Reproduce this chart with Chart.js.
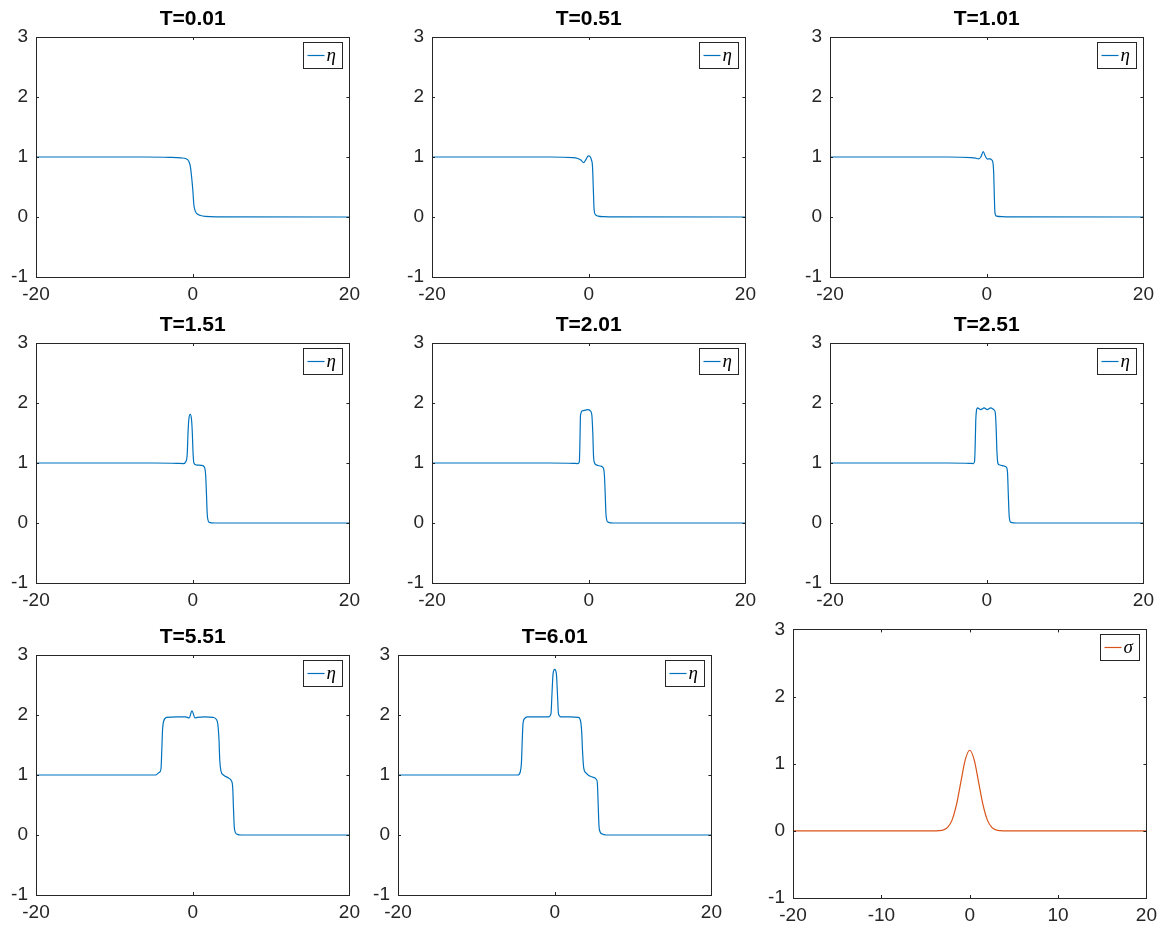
<!DOCTYPE html>
<html>
<head>
<meta charset="utf-8">
<script src="https://cdn.jsdelivr.net/npm/chart.js@4.4.1/dist/chart.umd.min.js"></script>
<style>
  html, body { margin: 0; background: #fff; overflow: hidden; }
  #fig { position: relative; width: 1164px; height: 929px; }
  #fig canvas { position: absolute; }
</style>
</head>
<body>
<div id="fig"></div>
<script>
// tick labels
const xTicksEta = [-20, 0, 20];
const xTicksSigma = [-20, -10, 0, 10, 20];
const yTicks = [-1, 0, 1, 2, 3];

const titles = ['T=0.01', 'T=0.51', 'T=1.01', 'T=1.51', 'T=2.01', 'T=2.51', 'T=5.51', 'T=6.01', ''];

// eta(x)
const x001 = [-20, -6, -3, -1.5, -0.85, -0.5, -0.3, -0.15, 0, 0.15, 0.35, 0.6, 1, 1.6, 3, 20];
const y001 = [1, 1, 0.995, 0.985, 0.97, 0.93, 0.84, 0.68, 0.47, 0.2, 0.09, 0.05, 0.025, 0.01, 0.002, 0];

const x051 = [-20, -5, -2, -1.4, -1, -0.65, -0.35, -0.05, 0.15, 0.35, 0.48, 0.58, 0.69, 0.86, 1.2, 2, 3, 20];
const y051 = [1, 1, 0.99, 0.975, 0.95, 0.905, 0.96, 1.02, 1.01, 0.95, 0.85, 0.5, 0.12, 0.04, 0.015, 0.005, 0.001, 0];

const x101 = [-20, -5, -2, -1.4, -1.05, -0.75, -0.44, -0.2, 0.1, 0.4, 0.65, 0.8, 0.9, 0.97, 1.05, 1.25, 2.1, 3, 20];
const y101 = [1, 1, 0.99, 0.98, 0.97, 1.0, 1.09, 1.02, 0.965, 0.97, 0.95, 0.9, 0.7, 0.35, 0.07, 0.015, 0.005, 0.001, 0];

const x151 = [-20, -5, -2, -1.2, -0.85, -0.7, -0.6, -0.5, -0.32, -0.15, -0.05, 0.05, 0.15, 0.4, 1.1, 1.5, 1.65, 1.75, 1.85, 1.95, 2.1, 2.8, 20];
const y151 = [1, 1, 0.995, 0.99, 1.03, 1.15, 1.5, 1.72, 1.81, 1.72, 1.5, 1.15, 1.0, 0.97, 0.96, 0.93, 0.8, 0.5, 0.15, 0.05, 0.01, 0, 0];

const x201 = [-20, -5, -2, -1.4, -1.2, -1.12, -1.05, -0.8, -0.4, -0.1, 0.2, 0.4, 0.52, 0.62, 0.75, 0.95, 1.5, 1.85, 2.0, 2.1, 2.2, 2.3, 2.45, 3.2, 20];
const y201 = [1, 1, 0.995, 0.99, 1.02, 1.35, 1.79, 1.87, 1.88, 1.89, 1.87, 1.8, 1.5, 1.1, 1.0, 0.97, 0.95, 0.92, 0.8, 0.5, 0.15, 0.05, 0.015, 0, 0];

const x251 = [-20, -5, -2.2, -1.7, -1.55, -1.47, -1.4, -1.3, -1.18, -0.76, -0.34, 0.08, 0.5, 0.9, 1.08, 1.2, 1.3, 1.42, 1.6, 2.2, 2.5, 2.65, 2.75, 2.85, 2.95, 3.1, 3.8, 20];
const y251 = [1, 1, 0.995, 0.99, 1.03, 1.3, 1.7, 1.88, 1.92, 1.89, 1.92, 1.89, 1.92, 1.89, 1.85, 1.6, 1.2, 1.0, 0.97, 0.95, 0.93, 0.85, 0.5, 0.15, 0.04, 0.01, 0, 0];

const x551 = [-20, -8, -4.7, -4.3, -4.05, -3.95, -3.85, -3.7, -3.3, -2, -0.9, -0.45, -0.1, 0.3, 0.6, 1.5, 2.6, 3.0, 3.2, 3.35, 3.45, 3.6, 3.92, 4.56, 4.95, 5.1, 5.2, 5.3, 5.45, 5.7, 6.2, 20];
const y551 = [1, 1, 1.0, 1.04, 1.1, 1.4, 1.75, 1.9, 1.96, 1.97, 1.97, 1.95, 2.07, 1.95, 1.96, 1.97, 1.96, 1.93, 1.85, 1.6, 1.25, 1.07, 1.0, 0.95, 0.9, 0.8, 0.45, 0.14, 0.04, 0.01, 0, 0];

const x601 = [-20, -8, -4.7, -4.4, -4.25, -4.15, -4.05, -3.85, -3.5, -2, -0.8, -0.48, -0.35, -0.21, 0, 0.21, 0.35, 0.48, 0.8, 2, 3.0, 3.3, 3.45, 3.55, 3.7, 3.95, 4.7, 5.35, 5.45, 5.55, 5.65, 5.8, 6.0, 6.6, 20];
const y601 = [1, 1, 1.0, 1.05, 1.2, 1.55, 1.85, 1.94, 1.97, 1.97, 1.97, 2.02, 2.35, 2.69, 2.76, 2.69, 2.35, 2.02, 1.97, 1.97, 1.96, 1.9, 1.7, 1.4, 1.12, 1.04, 0.97, 0.92, 0.85, 0.5, 0.15, 0.05, 0.02, 0, 0];

// sigma(x)
const xSig = [-20, -4, -3.5, -3, -2.5, -2, -1.5, -1, -0.5, 0, 0.5, 1, 1.5, 2, 2.5, 3, 3.5, 4, 20];
const ySig = [0, 0.0004, 0.003, 0.013, 0.053, 0.16, 0.39, 0.73, 1.06, 1.2, 1.06, 0.73, 0.39, 0.16, 0.053, 0.013, 0.003, 0.0004, 0];

const etaX = [x001, x051, x101, x151, x201, x251, x551, x601];
const etaY = [y001, y051, y101, y151, y201, y251, y551, y601];

// axes boxes in page pixels: left, top, width, height
const boxes = [
  [36, 37, 316, 240], [432, 37, 316, 240], [830, 37, 316, 240],
  [36, 343, 316, 240], [432, 343, 316, 240], [830, 343, 316, 240],
  [36, 655, 316, 240], [398, 655, 316, 240], [793, 640, 356, 258]
];

const BLUE = '#0072BD';
const ORANGE = '#D95319';
const AXIS = '#262626';
const Y_W = 40, TOP_H = 30, X_H = 32, PAD_R = 14;

const frame = {
  id: 'frame',
  afterDraw(chart) {
    const { ctx, chartArea: a, scales: { x, y } } = chart;
    const tl = 3;
    ctx.save();
    ctx.strokeStyle = AXIS;
    ctx.lineWidth = 1;
    ctx.beginPath();
    x.ticks.forEach((t) => {
      const px = Math.round(x.getPixelForValue(t.value)) + 0.5;
      ctx.moveTo(px, a.bottom); ctx.lineTo(px, a.bottom - tl);
      ctx.moveTo(px, a.top); ctx.lineTo(px, a.top + tl);
    });
    y.ticks.forEach((t) => {
      const py = Math.round(y.getPixelForValue(t.value)) + 0.5;
      ctx.moveTo(a.left, py); ctx.lineTo(a.left + tl, py);
      ctx.moveTo(a.right, py); ctx.lineTo(a.right - tl, py);
    });
    ctx.stroke();
    ctx.strokeRect(Math.round(a.left) + 0.5, Math.round(a.top) + 0.5,
      Math.round(a.right - a.left), Math.round(a.bottom - a.top));
    ctx.restore();
  }
};

const insetLegend = {
  id: 'insetLegend',
  afterDraw(chart) {
    const { ctx, chartArea: a } = chart;
    const ds = chart.data.datasets[0];
    const w = 39, h = 26;
    const bx = Math.round(a.right - 7 - w) + 0.5;
    const by = Math.round(a.top + 5) + 0.5;
    ctx.save();
    ctx.fillStyle = '#fff';
    ctx.fillRect(bx, by, w, h);
    ctx.strokeStyle = AXIS;
    ctx.lineWidth = 1;
    ctx.strokeRect(bx, by, w, h);
    ctx.strokeStyle = ds.borderColor;
    ctx.lineWidth = 1.2;
    ctx.beginPath();
    ctx.moveTo(bx + 4, by + h / 2);
    ctx.lineTo(bx + 21, by + h / 2);
    ctx.stroke();
    ctx.fillStyle = '#000';
    ctx.font = 'italic 19px "Liberation Serif"';
    ctx.textBaseline = 'middle';
    ctx.fillText(ds.label, bx + 23, by + h / 2);
    ctx.restore();
  }
};

function makePanel(i, xs, ys, label, color, xTicks) {
  const [l, t, w, h] = boxes[i];
  const canvas = document.createElement('canvas');
  canvas.width = w + Y_W + PAD_R;
  canvas.height = h + TOP_H + X_H;
  canvas.style.left = (l - Y_W) + 'px';
  canvas.style.top = (t - TOP_H) + 'px';
  document.getElementById('fig').appendChild(canvas);

  const tickFont = { family: '"Liberation Sans", Arial, sans-serif', size: 19 };

  new Chart(canvas, {
    type: 'line',
    data: {
      datasets: [{
        label,
        data: xs.map((x, k) => ({ x, y: ys[k] })),
        borderColor: color,
        borderWidth: 1.2,
        pointRadius: 0,
        cubicInterpolationMode: 'monotone',
        fill: false
      }]
    },
    options: {
      responsive: false,
      animation: false,
      devicePixelRatio: 1,
      layout: { padding: { top: 0, left: 0, right: PAD_R, bottom: 0 } },
      plugins: {
        legend: { display: false },
        tooltip: { enabled: false },
        title: {
          display: titles[i] !== '',
          text: titles[i],
          fullSize: false,
          color: '#000',
          font: { family: '"Liberation Sans", Arial, sans-serif', size: 21, weight: 'bold', lineHeight: '25px' },
          padding: { top: 0, bottom: 5 }
        }
      },
      scales: {
        x: {
          type: 'linear',
          min: -20,
          max: 20,
          grid: { display: false, drawTicks: false },
          border: { display: false },
          ticks: { color: AXIS, font: tickFont, padding: 6, maxRotation: 0 },
          afterBuildTicks: (s) => { s.ticks = xTicks.map((v) => ({ value: v })); },
          afterFit: (s) => { s.height = X_H; }
        },
        y: {
          min: -1,
          max: 3,
          grid: { display: false, drawTicks: false },
          border: { display: false },
          ticks: { color: AXIS, font: tickFont, padding: 8 },
          afterBuildTicks: (s) => { s.ticks = yTicks.map((v) => ({ value: v })); },
          afterFit: (s) => { s.width = Y_W; }
        }
      }
    },
    plugins: [frame, insetLegend]
  });
}

etaX.forEach((xs, i) => makePanel(i, xs, etaY[i], 'η', BLUE, xTicksEta));
makePanel(8, xSig, ySig, 'σ', ORANGE, xTicksSigma);
</script>
</body>
</html>
